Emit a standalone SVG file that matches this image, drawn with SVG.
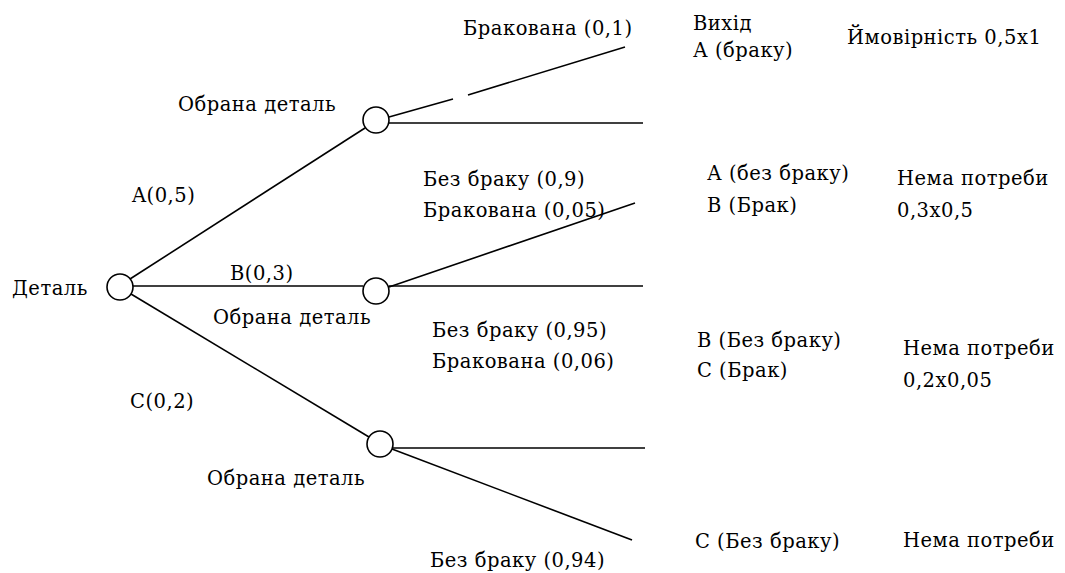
<svg xmlns="http://www.w3.org/2000/svg" width="1065" height="573" viewBox="0 0 1065 573">
<style>
text{font-family:"DejaVu Serif","Liberation Serif",serif;font-size:19.5px;letter-spacing:0.5px;fill:#000}
.e line{stroke:#000;stroke-width:1.6}
.n circle{fill:#fff;stroke:#000;stroke-width:1.6}
</style>
<rect width="1065" height="573" fill="#fff"/>
<g class="e" id="connectors">
<line x1="130" y1="279" x2="365" y2="128"/>
<line x1="133" y1="286" x2="363" y2="286"/>
<line x1="131" y1="294" x2="369" y2="437"/>
<line x1="389" y1="117" x2="453" y2="99"/>
<line x1="468" y1="95" x2="625" y2="47"/>
<line x1="389" y1="123" x2="643" y2="123"/>
<line x1="389" y1="287" x2="635" y2="203"/>
<line x1="389" y1="286" x2="643" y2="286"/>
<line x1="393" y1="448" x2="645" y2="448"/>
<line x1="392" y1="449" x2="632" y2="540"/>
</g>
<g class="n" id="root"><circle cx="120" cy="287" r="13"/><text x="12" y="295">Деталь</text></g>
<g class="n" id="nodeA"><circle cx="376" cy="120" r="13"/><text x="178" y="111">Обрана деталь</text></g>
<g class="n" id="nodeB"><circle cx="376" cy="291" r="13"/><text x="213" y="324">Обрана деталь</text></g>
<g class="n" id="nodeC"><circle cx="380" cy="444" r="13"/><text x="207" y="485">Обрана деталь</text></g>
<g id="edge-labels">
<text x="132" y="202">A(0,5)</text>
<text x="230" y="280">B(0,3)</text>
<text x="130" y="408">C(0,2)</text>
<text x="463" y="35">Бракована (0,1)</text>
<text x="423" y="186">Без браку (0,9)</text>
<text x="423" y="217">Бракована (0,05)</text>
<text x="432" y="337">Без браку (0,95)</text>
<text x="432" y="368">Бракована (0,06)</text>
<text x="430" y="567">Без браку (0,94)</text>
</g>
<g id="outcomes">
<text x="693" y="30">Вихід</text>
<text x="693" y="57">А (браку)</text>
<text x="847" y="44">Ймовірність 0,5х1</text>
<text x="707" y="180">А (без браку)</text>
<text x="707" y="212">В (Брак)</text>
<text x="897" y="185">Нема потреби</text>
<text x="897" y="217">0,3х0,5</text>
<text x="697" y="347">В (Без браку)</text>
<text x="697" y="377">С (Брак)</text>
<text x="903" y="355">Нема потреби</text>
<text x="903" y="387">0,2х0,05</text>
<text x="695" y="548">С (Без браку)</text>
<text x="903" y="547">Нема потреби</text>
</g>
</svg>
